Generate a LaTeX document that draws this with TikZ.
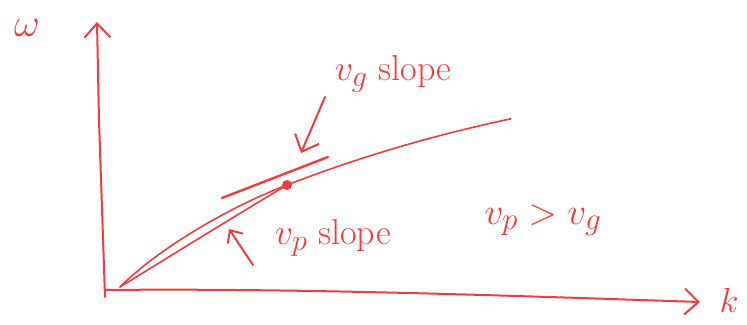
\documentclass[tikz,border=0pt]{standalone}
\usepackage{graphicx}
\usetikzlibrary{arrows.meta}
\definecolor{pen}{RGB}{236,62,64}
\newcommand{\hand}[2]{\scalebox{#1}{\fontsize{24.88}{30}\selectfont #2}}
\begin{document}
\begin{tikzpicture}[x=1pt,y=-1pt,
  ink/.style={draw=pen,line width=2pt,line cap=round,line join=round},
  thin ink/.style={draw=pen,line width=1.6pt,line cap=round},
  lbl/.style={text=pen,inner sep=0pt},
  barb/.style={-{Straight Barb[length=14pt,width=26pt,line width=2pt]}}]
\useasboundingbox (0,0) rectangle (747,324);
% axes
\coordinate (O) at (105,290);
\coordinate (Obot) at (105,297);
\coordinate (ytop) at (97,22);
\coordinate (xend) at (700,302);
\draw[ink,barb] (Obot) -- (99,120) -- (ytop);
\draw[ink,barb] (O) .. controls (300,288) and (520,296) .. (xend);
\node[lbl] (w) at (27,28) {\hand{1.6}{$\omega$}};
\node[lbl] (k) at (729,300) {\hand{1.4}{$k$}};
% dispersion curve
\coordinate (C0) at (120,287);
\coordinate (P) at (287,185);
\coordinate (Cend) at (510,119);
\draw[thin ink] (C0) .. controls (160,247) and (232,206) .. (P)
  .. controls (362,156) and (435,135) .. (Cend);
\fill[pen] (Cend) circle (1.5pt);
% secant (phase velocity)
\draw[thin ink] (C0) .. controls (180,250) and (240,213) .. (P);
\fill[pen] (P) circle (5pt);
% tangent (group velocity)
\coordinate (T1) at (222,198);
\coordinate (T2) at (328,157);
\draw[ink,line width=2.4pt] (T1) -- (T2);
% labels
\node[lbl] (vg) at (393,74) {\hand{1.45}{$v_g$ slope}};
\coordinate (vgA) at (325,97);
\coordinate (vgB) at (301,153);
\draw[ink,barb] (vgA) -- (vgB);
\node[lbl] (vp) at (333,238) {\hand{1.45}{$v_p$ slope}};
\coordinate (vpA) at (253,265);
\coordinate (vpB) at (229,229);
\draw[ink,-{Straight Barb[length=10pt,width=18pt,line width=2pt]}] (vpA) -- (vpB);
\node[lbl] (cmp) at (543,220) {\hand{1.5}{$v_p > v_g$}};
\end{tikzpicture}
\end{document}
